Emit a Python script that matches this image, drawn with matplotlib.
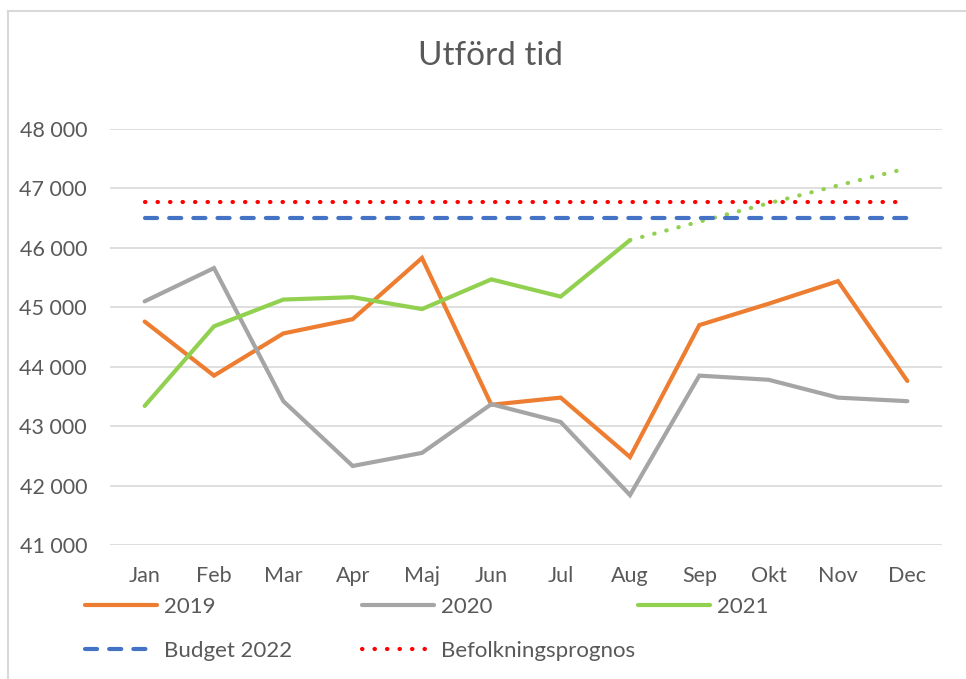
import numpy as np
import matplotlib.pyplot as plt
from matplotlib.lines import Line2D

plt.rcParams['font.family'] = ['Lato', 'DejaVu Sans']

# data
months = ['Jan', 'Feb', 'Mar', 'Apr', 'Maj', 'Jun', 'Jul', 'Aug', 'Sep', 'Okt', 'Nov', 'Dec']
y2019 = [44760, 43850, 44560, 44800, 45830, 43360, 43480, 42480, 44700, 45060, 45440, 43760]
y2020 = [45100, 45660, 43420, 42330, 42550, 43370, 43070, 41840, 43850, 43780, 43480, 43420]
y2021 = [43340, 44680, 45130, 45170, 44970, 45470, 45180, 46130]
y2021_prognos = [46130, 46440, 46750, 47050, 47340]  # Aug..Dec, dotted
budget_2022 = [46500] * 12
befolkning = [46780] * 12

yticks = [41000, 42000, 43000, 44000, 45000, 46000, 47000, 48000]

c_orange = '#ED7D31'
c_gray = '#A5A5A5'
c_green = '#92D050'
c_blue = '#4472C4'
c_red = '#FF0000'
c_text = '#595959'

W, H = 966, 679
fig = plt.figure(figsize=(W / 100, H / 100), dpi=100)
ax = fig.add_axes([110 / W, 1 - 545 / H, (942 - 110) / W, (545 - 129) / H])

x = np.arange(len(months))
lw = 3
l19, = ax.plot(x, y2019, color=c_orange, lw=lw, solid_capstyle='round', solid_joinstyle='miter', label='2019')
l20, = ax.plot(x, y2020, color=c_gray, lw=lw, solid_capstyle='round', solid_joinstyle='miter', label='2020')
l21, = ax.plot(x[:len(y2021)], y2021, color=c_green, lw=lw, solid_capstyle='round', solid_joinstyle='miter', label='2021')
ax.plot(x[len(y2021) - 1:], y2021_prognos, color=c_green, lw=lw, dash_capstyle='round',
        linestyle=(0, (0.1, 2.9)), label='_nolegend_')
lb, = ax.plot(x, budget_2022, color=c_blue, lw=lw, dash_capstyle='round',
              linestyle=(0, (2.9, 2.9)), label='Budget 2022')
lr, = ax.plot(x, befolkning, color=c_red, lw=lw, dash_capstyle='round',
              linestyle=(0, (0.1, 2.9)), label='Befolkningsprognos')

ax.set_xlim(-0.5, len(months) - 0.5)
ax.set_ylim(41000, 48000)
ax.set_yticks(yticks)
ax.set_yticklabels([f'{v:,}'.replace(',', ' ') for v in yticks])
ax.set_xticks(x)
ax.set_xticklabels(months)
ax.tick_params(length=0, labelsize=15.5, labelcolor=c_text)
ax.tick_params(axis='y', pad=16.5)
ax.tick_params(axis='x', pad=15)
ax.grid(axis='y', color='#D9D9D9', lw=1.2)
ax.set_axisbelow(True)
for s in ax.spines.values():
    s.set_visible(False)

fig.text(490 / W, 1 - 56 / H, 'Utförd tid', ha='center', va='center', fontsize=24, color=c_text)

# legend, three columns placed by hand
cols = [([l19, lb], 85), ([l20, lr], 362), ([l21], 638)]
for handles, xpix in cols:
    leg = fig.legend(handles=handles, loc='upper left', bbox_to_anchor=(xpix / W, 1 - 597 / H),
                     frameon=False, fontsize=16, handlelength=3.25, handletextpad=0.3,
                     labelspacing=1.08, borderpad=0, borderaxespad=0)
    for t in leg.get_texts():
        t.set_color(c_text)

# chart frame
fig.add_artist(Line2D([8 / W, 1], [1 - 11 / H, 1 - 11 / H], color='#D9D9D9', lw=1.5))
fig.add_artist(Line2D([8 / W, 8 / W], [0, 1 - 11 / H], color='#D9D9D9', lw=1.5))

fig.savefig('out.png', dpi=100)
